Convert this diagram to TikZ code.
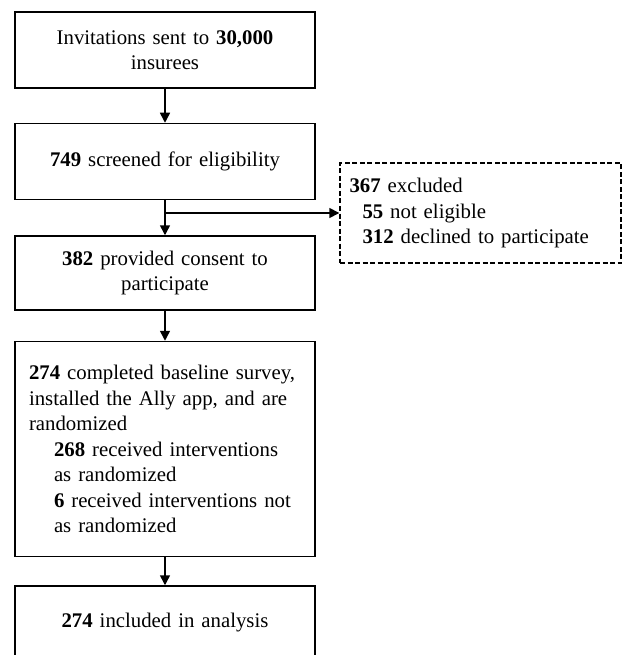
\documentclass[tikz,border=0pt]{standalone}
\usepackage{fontspec}
\setmainfont{Liberation Serif}
\usetikzlibrary{arrows.meta,positioning,calc}

\begin{document}
\begin{tikzpicture}[x=1pt,y=1pt,font=\fontsize{20.8}{25.5}\selectfont,>={Triangle[length=10pt,width=10pt]},
  box/.style={draw=black,line width=1.5pt,align=center,minimum width=300pt,text width=272pt,inner sep=0pt},
  excl/.style={draw=black,line width=1.4pt,dash pattern=on 5pt off 2.5pt,align=left,minimum width=281pt,minimum height=100pt,text width=262pt,inner sep=0pt},
  flow/.style={->,line width=1.5pt}]
\useasboundingbox (0,0) rectangle (632,-655);
\node[box,minimum height=76pt] (inv) at (165,-50) {Invitations sent to \textbf{30,000}\\insurees};
\node[box,minimum height=76pt,below=34pt of inv] (scr) {\textbf{749} screened for eligibility};
\node[box,minimum height=74pt,below=35pt of scr] (cons) {\textbf{382} provided consent to\\participate};
\node[box,minimum height=215pt,below=30pt of cons,align=left] (rand) {\textbf{274} completed baseline survey,\\
  installed the Ally app, and are\\
  randomized\\
  \hspace*{25pt}\textbf{268} received interventions\\
  \hspace*{25pt}as randomized\\
  \hspace*{25pt}\textbf{6} received interventions not\\
  \hspace*{25pt}as randomized};
\node[box,minimum height=74pt,below=28pt of rand] (ana) {\textbf{274} included in analysis};
% excluded box off to the right of the split
\node[excl] (exc) at (480.5,-213) {\textbf{367} excluded\\
  \hspace*{13pt}\textbf{55} not eligible\\
  \hspace*{13pt}\textbf{312} declined to participate};
\coordinate (split) at (scr.south |- exc.west);
\draw[flow] (inv) -- (scr);
\draw[flow] (scr) -- (cons);
\draw[flow] (split) -- (exc.west);
\draw[flow] (cons) -- (rand);
\draw[flow] (rand) -- (ana);
\end{tikzpicture}
\end{document}
